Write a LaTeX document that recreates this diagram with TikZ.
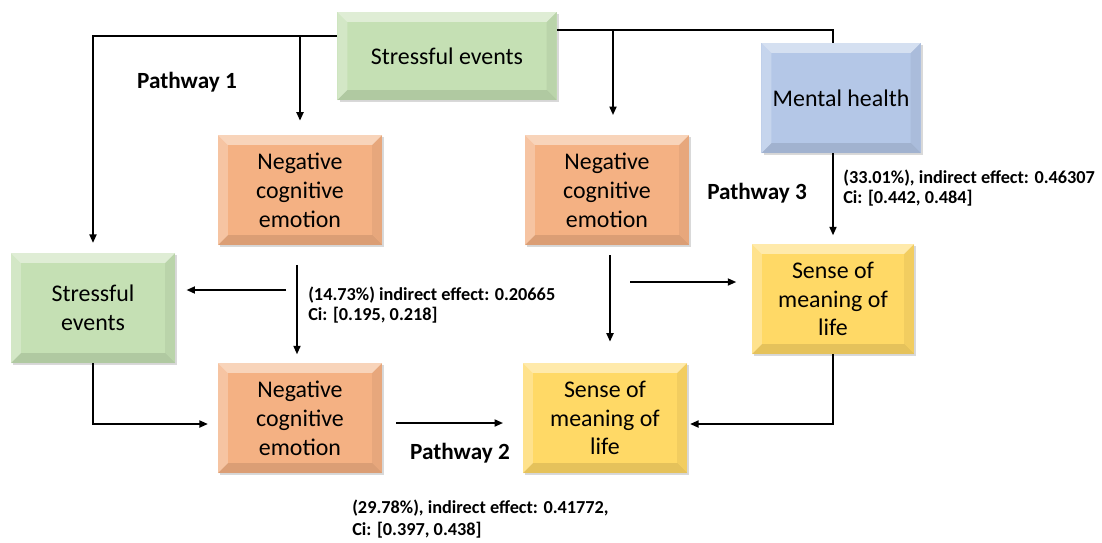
\documentclass[tikz,border=0pt]{standalone}
\usepackage{fontspec}
\setmainfont{Carlito}
\usetikzlibrary{arrows.meta,positioning,calc,shadows}
\definecolor{boxgreen}{RGB}{197,224,180}
\definecolor{boxorange}{RGB}{244,177,131}
\definecolor{boxblue}{RGB}{180,199,231}
\definecolor{boxyellow}{RGB}{255,217,102}
\tikzset{
  bevel/.style={path picture={
    \fill[white,opacity=.45] (path picture bounding box.north west) -- (path picture bounding box.north east)
      -- ([xshift=-7pt,yshift=-7pt]path picture bounding box.north east) -- ([xshift=7pt,yshift=-7pt]path picture bounding box.north west) -- cycle;
    \fill[white,opacity=.25] (path picture bounding box.north west) -- (path picture bounding box.south west)
      -- ([xshift=7pt,yshift=7pt]path picture bounding box.south west) -- ([xshift=7pt,yshift=-7pt]path picture bounding box.north west) -- cycle;
    \fill[black,opacity=.10] (path picture bounding box.south west) -- (path picture bounding box.south east)
      -- ([xshift=-7pt,yshift=7pt]path picture bounding box.south east) -- ([xshift=7pt,yshift=7pt]path picture bounding box.south west) -- cycle;
    \fill[black,opacity=.05] (path picture bounding box.north east) -- (path picture bounding box.south east)
      -- ([xshift=-7pt,yshift=7pt]path picture bounding box.south east) -- ([xshift=-7pt,yshift=-7pt]path picture bounding box.north east) -- cycle;
  }},
  blk/.style={minimum width=4.1cm,minimum height=2.75cm,align=center,inner sep=2pt,
    font=\fontsize{17}{20.5}\selectfont,
    drop shadow={opacity=.3,shadow xshift=1.5pt,shadow yshift=-1.5pt},bevel},
  greenblk/.style={blk,fill=boxgreen},
  orangeblk/.style={blk,fill=boxorange},
  blueblk/.style={blk,fill=boxblue},
  yellowblk/.style={blk,fill=boxyellow},
  arr/.style={-{Triangle[length=6pt,width=5pt]},line width=1.2pt},
  effect/.style={anchor=west,align=left,inner sep=0pt,font=\bfseries\fontsize{13}{14.8}\selectfont},
  pathway/.style={font=\bfseries\fontsize{16.5}{20}\selectfont}
}
\begin{document}
\begin{tikzpicture}[x=0.025cm,y=-0.025cm]
\useasboundingbox (0,0) rectangle (1102,542);
% boxes
\node[greenblk,minimum width=5.475cm,minimum height=2.2cm] (setop) at (447,56) {Stressful events};
\node[blueblk,minimum width=3.975cm] (mh) at (841,98) {Mental health};
\node[orangeblk] (nceA) at (300,190) {Negative\\cognitive\\emotion};
\node[orangeblk] (nceB) at (607,190) {Negative\\cognitive\\emotion};
\node[greenblk] (seleft) at (93,308) {Stressful\\events};
\node[orangeblk] (nceC) at (300,418) {Negative\\cognitive\\emotion};
\node[yellowblk] (smlb) at (605,418) {Sense of\\meaning of\\life};
\node[yellowblk,minimum width=4.05cm] (smlr) at (833,299) {Sense of\\meaning of\\life};
% joints and free ends
\coordinate (jl) at ($(setop.north west)+(0,24)$);
\coordinate (jr) at ($(setop.north east)+(0,18)$);
\coordinate (p1) at (286,290);
\coordinate (p2) at (630,282);
% connectors
\draw[arr,shorten >=7pt] (jl) -| (seleft.north);
\draw[arr,shorten >=10pt] (jl -| nceA.north) -- (nceA.north);
\draw[line width=1.2pt] (jr) -| (mh.north -| smlr.north);
\draw[arr,shorten >=14pt] (jr -| nceB.north) ++(6,0) coordinate (jb) -- (jb |- nceB.north);
\draw[arr,shorten >=6pt] (mh.south -| smlr.north) -- (smlr.north);
\draw[arr,shorten >=8pt] (p1) -- (p1 -| seleft.east);
\draw[arr,shorten <=14pt,shorten >=6pt] (nceA.south -| 297,0) -- (nceC.north -| 297,0);
\draw[arr,shorten <=7pt,shorten >=15pt] (nceB.south -| 610,0) -- (smlb.north -| 610,0);
\draw[arr,shorten >=11pt] (p2) -- (p2 -| smlr.west);
\draw[arr,shorten >=7pt] (seleft.south) |- (nceC.west |- 0,424);
\draw[arr,shorten <=10pt,shorten >=14pt] (nceC.east |- 0,423) -- (smlb.west |- 0,423);
\draw[arr,shorten >=2pt] (smlr.south) |- (smlb.east |- 0,424);
% labels
\node[pathway] (pw1) at (187,82) {Pathway 1};
\node[pathway] (pw2) at (460,453) {Pathway 2};
\node[pathway] (pw3) at (757,193) {Pathway 3};
\node[effect] (efA) at (308,305) {(14.73\%) indirect effect: 0.20665\\Ci: [0.195, 0.218]};
\node[effect] (efB) at (843,188) {(33.01\%), indirect effect: 0.46307\\Ci: [0.442, 0.484]};
\node[effect,font=\bfseries\fontsize{13}{16}\selectfont] (efC) at (352,519) {(29.78\%), indirect effect: 0.41772,\\Ci: [0.397, 0.438]};
\end{tikzpicture}
\end{document}
